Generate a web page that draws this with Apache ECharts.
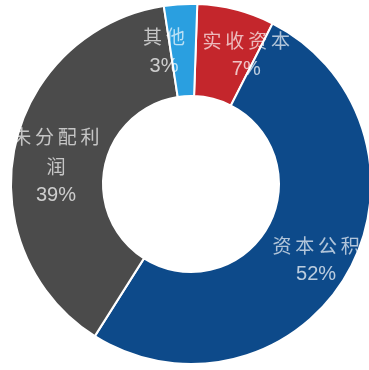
<!DOCTYPE html>
<html>
<head>
<meta charset="utf-8">
<script src="https://cdn.jsdelivr.net/npm/echarts@6/dist/echarts.min.js"></script>
<style>
  html, body { margin: 0; padding: 0; background: #fff; }
  #main { width: 369px; height: 370px; }
</style>
</head>
<body>
<div id="main"></div>
<script>
// 数据
var names = ['实收资本', '资本公积', '未分配利润', '其他'];
var values = [7, 52, 39, 3];

var palette = ['#c4262c', '#0d4a8a', '#4b4b4b', '#2a9fe0'];
// label nudges, px
var labelOffsets = [[21, 3], [6, 8], [-1, 10], [-19, 4]];

var myChart = echarts.init(document.getElementById('main'));

var seriesData = names.map(function (n, i) {
  return {
    name: n,
    value: values[i],
    itemStyle: { color: palette[i] },
    label: { offset: labelOffsets[i] }
  };
});

myChart.setOption({
  animation: false,
  series: [
    {
      type: 'pie',
      center: [191, 184],
      radius: [88, 180],
      startAngle: 88,
      clockwise: true,
      itemStyle: { borderColor: '#fff', borderWidth: 2 },
      label: {
        show: true,
        position: 'inside',
        formatter: function (p) {
          var chars = p.name.split('');
          var lines = [];
          for (var i = 0; i < chars.length; i += 4) {
            lines.push('{n|' + chars.slice(i, i + 4).join('\u2009') + '}');
          }
          return lines.join('\n') + '\n{v|' + p.value + '%}';
        },
        rich: {
          n: {
            fontFamily: 'Noto Sans CJK SC',
            fontSize: 19,
            color: 'rgba(255,255,255,0.68)',
            lineHeight: 30
          },
          v: {
            fontFamily: 'Liberation Sans',
            fontSize: 20,
            color: 'rgba(255,255,255,0.72)',
            lineHeight: 28
          }
        }
      },
      labelLine: { show: false },
      data: seriesData
    }
  ]
});
</script>
</body>
</html>
